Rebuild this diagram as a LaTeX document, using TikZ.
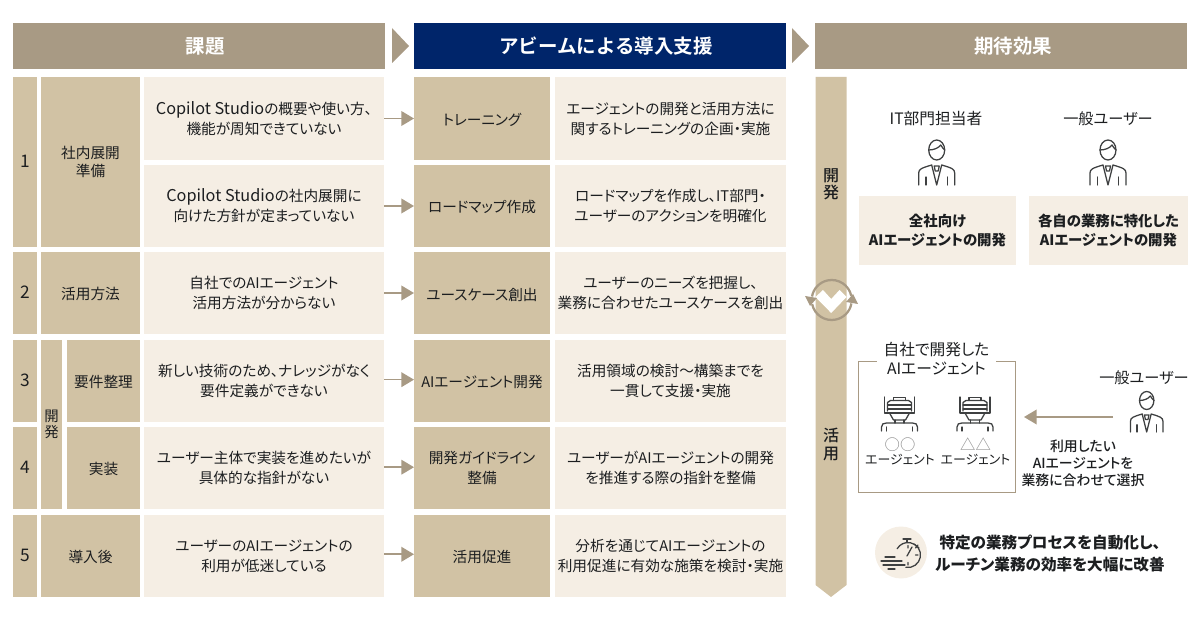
\documentclass[tikz,border=0pt]{standalone}
\usepackage{fontspec}
\setmainfont[RawFeature=+palt]{Noto Sans CJK JP}
\newfontfamily\medfont[RawFeature=+palt]{Noto Sans CJK JP Medium}
\newfontfamily\headfont{Noto Sans CJK JP Bold}
\usetikzlibrary{arrows.meta}
\definecolor{headtan}{HTML}{A89A84}
\definecolor{headnavy}{HTML}{00256A}
\definecolor{celltan}{HTML}{D1C2A4}
\definecolor{celllight}{HTML}{F5EEE4}
\definecolor{arrowtan}{HTML}{A89A84}
\definecolor{ink}{HTML}{1C1E20}
\definecolor{frameline}{HTML}{A89A84}
\definecolor{softgray}{HTML}{8C8C8C}
\newcommand\PX{0.75pt}
\newcommand\COPILOT{{\fontsize{12.2}{15}\selectfont Copilot Studio}}
\tikzset{
  x=\PX, y=-\PX,
  box/.style={inner sep=0pt, outer sep=0pt, align=center, text=ink, font=\fontsize{11}{15}\selectfont, execute at begin node={\rule{0pt}{11.4pt}}},
  headbox/.style={box, minimum width=372*\PX, minimum height=46*\PX, fill=headtan, text=white, font=\fontsize{14.6}{16}\headfont},
  numcell/.style={box, fill=celltan, minimum width=24*\PX, font=\fontsize{13}{15}\selectfont, execute at begin node={\rule[-3pt]{0pt}{3pt}}},
  labelcell/.style={box, fill=celltan, minimum width=99*\PX},
  subcell/.style={box, fill=celltan, minimum width=73*\PX},
  probcell/.style={box, fill=celllight, minimum width=240*\PX, minimum height=82*\PX},
  supcell/.style={box, fill=celltan, minimum width=136*\PX, minimum height=82*\PX},
  detcell/.style={box, fill=celllight, minimum width=231*\PX, minimum height=82*\PX},
  link/.style={draw=arrowtan, line width=1.2pt, -{Triangle[length=9.5pt, width=11pt]}},
  effectbox/.style={box, fill=celllight, minimum height=69*\PX, font=\fontsize{10.8}{14.6}\selectfont\bfseries},
  icon/.style={draw=ink!85, line width=0.95pt, line cap=round, line join=round},
  person/.pic={
    \draw[icon] (0,10) ellipse (8 and 10);
    \draw[icon] (-8,10) .. controls (-3,10) and (2,8) .. (4,5) .. controls (5,7) and (7,9) .. (8,10);
    \draw[icon] (-18,45) -- (-18,33) .. controls (-18,29) and (-15,28) .. (-5,25) -- (0,45) -- (5,25) .. controls (15,28) and (18,29) .. (18,33) -- (18,45);
    \draw[icon] (-2.5,26) -- (2.5,26) -- (1.5,31) -- (-1.5,31) -- cycle;
    \draw[icon] (-10.7,37) -- (-10.7,45) (10.7,37) -- (10.7,45);
  },
  robot/.pic={
    \draw[icon] (-15,0) -- (-15,16) -- (15,16) -- (15,0);
    \draw[icon] (-6,3.5) -- (-6,0.5) -- (6,0.5) -- (6,3.5);
    \draw[icon] (-12,14) -- (-12,5.5) -- (-9,3.5) -- (9,3.5) -- (12,5.5) -- (12,14);
    \draw[icon] (-12,8) -- (12,8) (-12,12) -- (12,12);
    \draw[icon] (-10,16) -- (-6,23) -- (6,23) -- (10,16);
    \draw[icon] (-4.5,23) -- (-4.5,26) (4.5,23) -- (4.5,26);
    \draw[icon] (-18,34) -- (-18,30) .. controls (-18,27) and (-16,26) .. (-13,26) -- (13,26) .. controls (16,26) and (18,27) .. (18,30) -- (18,34);
    \draw[icon] (-13,30) -- (-13,34) (13,30) -- (13,34);
  }
}
\begin{document}
\begin{tikzpicture}
  \useasboundingbox (0,0) rectangle (1200,620);

  % header row
  \node[headbox] (head1) at (199,46) {\hspace*{9pt}課題};
  \node[headbox, fill=headnavy] (head2) at (600,46) {\hspace*{9pt}アビームによる導入支援};
  \node[headbox] (head3) at (1001,46) {\hspace*{18pt}期待効果};
  \fill[headtan] (392,28) -- (409,46) -- (392,63) -- cycle;
  \fill[headtan] (792,28) -- (809,46) -- (792,63) -- cycle;

  % left columns
  \node[numcell, minimum height=170*\PX] (num1) at (25,162) {1};
  \node[numcell, minimum height=82*\PX] (num2) at (25,293) {2};
  \node[numcell, minimum height=82*\PX] (num3) at (25,381) {3};
  \node[numcell, minimum height=82*\PX] (num4) at (25,468) {4};
  \node[numcell, minimum height=82*\PX] (num5) at (25,556) {5};

  \node[labelcell, minimum height=170*\PX, font=\fontsize{11}{13.5}\selectfont, execute at begin node={\rule{0pt}{14.5pt}}] (lab1) at (90.5,162) {社内展開\\準備};
  \node[labelcell, minimum height=82*\PX] (lab2) at (90.5,293) {活用方法};
  \node[box, fill=celltan, minimum width=21*\PX, minimum height=169*\PX, font=\fontsize{10.8}{11.5}\selectfont] (labdev) at (51.5,424.5) {開\\発};
  \node[subcell, minimum height=82*\PX] (lab3) at (103.5,381) {要件整理};
  \node[subcell, minimum height=82*\PX] (lab4) at (103.5,468) {実装};
  \node[labelcell, minimum height=82*\PX] (lab5) at (90.5,556) {導入後};

  % problems
  \node[probcell, minimum height=83*\PX] (prob1) at (264,118.5) {\COPILOT の概要や使い方、\\機能が周知できていない};
  \node[probcell] (prob2) at (264,206) {\COPILOT の社内展開に\\向けた方針が定まっていない};
  \node[probcell] (prob3) at (264,293) {自社でのAIエージェント\\活用方法が分からない};
  \node[probcell] (prob4) at (264,381) {新しい技術のため、ナレッジがなく\\要件定義ができない};
  \node[probcell] (prob5) at (264,468) {ユーザー主体で実装を進めたいが\\具体的な指針がない};
  \node[probcell] (prob6) at (264,556) {ユーザーのAIエージェントの\\利用が低迷している};

  % support
  \node[supcell, minimum height=83*\PX] (sup1) at (482,118.5) {トレーニング};
  \node[supcell] (sup2) at (482,206) {ロードマップ作成};
  \node[supcell] (sup3) at (482,293) {ユースケース創出};
  \node[supcell] (sup4) at (482,381) {AIエージェント開発};
  \node[supcell] (sup5) at (482,468) {開発ガイドライン\\整備};
  \node[supcell] (sup6) at (482,556) {活用促進};

  \node[detcell, minimum height=83*\PX] (det1) at (670.5,118.5) {エージェントの開発と活用方法に\\関するトレーニングの企画・実施};
  \node[detcell] (det2) at (670.5,206) {ロードマップを作成し、IT部門・\\ユーザーのアクションを明確化};
  \node[detcell] (det3) at (670.5,293) {ユーザーのニーズを把握し、\\業務に合わせたユースケースを創出};
  \node[detcell] (det4) at (670.5,381) {活用領域の検討～構築までを\\一貫して支援・実施};
  \node[detcell] (det5) at (670.5,468) {ユーザーがAIエージェントの開発\\を推進する際の指針を整備};
  \node[detcell] (det6) at (670.5,556) {分析を通じてAIエージェントの\\利用促進に有効な施策を検討・実施};

  \draw[link] (prob1) -- (sup1);
  \draw[link] (prob2) -- (sup2);
  \draw[link] (prob3) -- (sup3);
  \draw[link] ([yshift=1pt]prob4.east) -- ([yshift=1pt]sup4.west);
  \draw[link] ([yshift=.6pt]prob5.east) -- ([yshift=.6pt]sup5.west);
  \draw[link] ([yshift=1.3pt]prob6.east) -- ([yshift=1.3pt]sup6.west);

  % right panel
  \fill[celltan] (815.5,77) -- (846.5,77) -- (846.5,585) -- (831,597) -- (815.5,585) -- cycle;
  \node[box, font=\fontsize{12}{13}\medfont] (bardev) at (831,184) {開\\発};
  \node[box, font=\fontsize{12}{13}\medfont] (baruse) at (831,444.5) {活\\用};

  \fill[white] (815.5,297) -- (823,290) -- (831.2,299) -- (839.5,290) -- (846.5,297) -- (831.2,313) -- cycle;
  \draw[arrowtan, line width=1.7pt] (831.7,300) ++(-12:20) arc (-12:-170:20);
  \draw[arrowtan, line width=1.7pt] (831.7,300) ++(168:20) arc (168:10:20);
  \fill[arrowtan] (805,296) -- (817,298) -- (810,306) -- cycle;
  \fill[arrowtan] (858,304) -- (846,302) -- (853,294) -- cycle;

  \node[box, font=\fontsize{11.8}{14}\selectfont] (itlabel) at (936,118) {IT部門担当者};
  \node[box, font=\fontsize{11.4}{14}\selectfont] (userlabel) at (1108,118) {一般ユーザー};
  \pic at (936.7,140) {person};
  \pic at (1108,140) {person};
  \node[effectbox, minimum width=157*\PX] (effect1) at (937.5,230.5) {全社向け\\AIエージェントの開発};
  \node[effectbox, minimum width=159*\PX] (effect2) at (1108.5,230.5) {各自の業務に特化した\\AIエージェントの開発};

  \node[draw=frameline, line width=0.75pt, inner sep=0pt, minimum width=157*\PX, minimum height=131*\PX] (frame) at (936.5,427) {};
  \node[box, fill=white, minimum width=119*\PX, font=\fontsize{11.8}{14}\selectfont] (frametitle) at (936.5,358.5) {自社で開発した\\AIエージェント};
  \pic at (899.5,397) {robot};
  \pic at (975,397) {robot};
  \node[box, font=\fontsize{9.7}{10.5}\selectfont] (agent1) at (900,451.5) {{\fontsize{11.5}{10.5}\selectfont\color{softgray}○○}\\エージェント};
  \node[box, font=\fontsize{9.7}{10.5}\selectfont] (agent2) at (975.5,451.5) {{\fontsize{11.5}{10.5}\selectfont\color{softgray}△△}\\エージェント};

  \node[box, font=\fontsize{11.4}{14}\selectfont] (userlabel2) at (1144,377) {一般ユーザー};
  \pic[scale=.9] at (1146.7,391.5) {person};
  \coordinate (pickstart) at (1113,417);
  \coordinate (pickend) at (1024,417);
  \draw[link] (pickstart) -- (pickend);
  \node[box, font=\fontsize{10.4}{12.8}\medfont] (picktext) at (1083,463.5) {利用したい\\AIエージェントを\\業務に合わせて選択};

  % stopwatch
  \fill[celllight] (901,552.5) circle (26);
  \draw[icon] (908,555) ++(100:12.5) arc (100:-150:12.5);
  \draw[icon] (903,539) -- (911,539) (907,539) -- (907,542.5);
  \draw[icon] (914,544) -- (919,548) (915.5,548) -- (918,545);
  \draw[icon] (907,556) -- (912,547) (908,545.5) -- (908,548) (918,555) -- (915.5,555) (908,565) -- (908,562.5);
  \draw[icon] (885,557) -- (895,557) (881,561) -- (902,561) (883,565) -- (905,565) (888,569) -- (895,569);
  \node[box, font=\fontsize{11.7}{16}\selectfont\bfseries] (savetext) at (1050,553.5) {特定の業務プロセスを自動化し、\\ルーチン業務の効率を大幅に改善};
\end{tikzpicture}
\end{document}
